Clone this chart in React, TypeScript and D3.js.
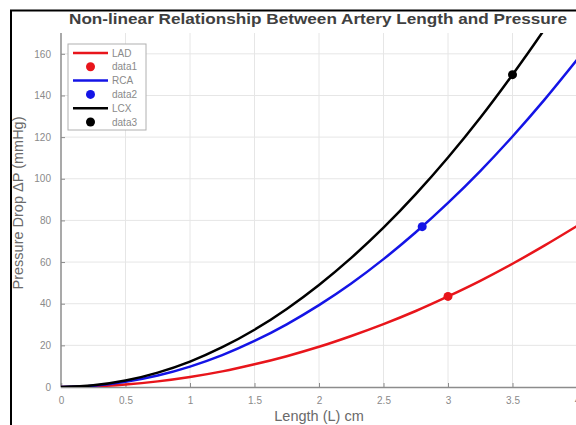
import * as d3 from 'd3'
import { useEffect, useRef } from 'react'

// Length samples (cm) and pressure drop (mmHg)
const lengths = [0, 0.25, 0.5, 0.75, 1, 1.25, 1.5, 1.75, 2, 2.25, 2.5, 2.75, 3, 3.25, 3.5, 3.75, 4]
const ladValues = [0, 0.3, 1.2, 2.7, 4.8, 7.5, 10.9, 14.8, 19.3, 24.5, 30.2, 36.5, 43.5, 51, 59.2, 68, 77.3]
const rcaValues = [0, 0.6, 2.5, 5.5, 9.8, 15.3, 22.1, 30.1, 39.3, 49.7, 61.4, 74.3, 88.4, 103.7, 120.3, 138.1, 157.1]
const lcxValues = [0, 0.8, 3.1, 6.9, 12.2, 19.1, 27.5, 37.5, 49, 62, 76.5, 92.6, 110.2, 129.3, 150, 172, 196]

const markers = [
  { name: 'data1', x: 3, y: 43.5, color: '#e8151b' },
  { name: 'data2', x: 2.8, y: 77, color: '#1414e6' },
  { name: 'data3', x: 3.5, y: 150, color: '#000000' },
]
const seriesNames = ['LAD', 'RCA', 'LCX']
const seriesColors = ['#e8151b', '#1414e6', '#000000']
const xTicks = [0, 0.5, 1, 1.5, 2, 2.5, 3, 3.5, 4]
const yTicks = [0, 20, 40, 60, 80, 100, 120, 140, 160]

const App = () => {
  const ref = useRef<SVGSVGElement>(null)
  useEffect(() => {
    const width = 576, height = 425
    const padding = { top: 33, right: -1, bottom: 38, left: 61 }
    const svg = d3.select(ref.current)
    svg.selectAll('*').remove()
    svg.attr('width', width).attr('height', height)
    svg.append('rect').attr('width', width).attr('height', height).attr('fill', '#fff')

    const xScale = d3.scaleLinear().domain([0, 4]).range([padding.left, width - padding.right])
    const yScale = d3.scaleLinear().domain([0, 170]).range([height - padding.bottom, padding.top])
    const font = '"Liberation Sans", Arial, sans-serif'

    // grid
    const grid = svg.append('g')
    grid.selectAll('.gx').data(xTicks.slice(1)).enter().append('line')
      .attr('x1', d => xScale(d)).attr('x2', d => xScale(d))
      .attr('y1', yScale(0)).attr('y2', padding.top)
      .attr('stroke', '#e6e6e6').attr('stroke-width', 1)
    grid.selectAll('.gy').data(yTicks.slice(1)).enter().append('line')
      .attr('x1', padding.left).attr('x2', width)
      .attr('y1', d => yScale(d)).attr('y2', d => yScale(d))
      .attr('stroke', '#e6e6e6').attr('stroke-width', 1)

    // axes
    const xAxis = d3.axisBottom(xScale).tickValues(xTicks).tickSize(-4).tickPadding(10).tickFormat(d => String(d))
    const yAxis = d3.axisLeft(yScale).tickValues(yTicks).tickSize(-4).tickPadding(10).tickFormat(d => String(d))
    const gx = svg.append('g').attr('transform', `translate(0,${yScale(0)})`).call(xAxis)
    const gy = svg.append('g').attr('transform', `translate(${padding.left},0)`).call(yAxis)
    ;[gx, gy].forEach(g => {
      g.select('.domain').attr('stroke', '#8c8c8c').attr('stroke-width', 1.5)
      g.selectAll('.tick line').attr('stroke', '#8c8c8c')
      g.selectAll('.tick text').attr('fill', '#8a8a8a').attr('font-size', 10).attr('font-family', font)
    })
    gy.select('.domain').attr('d', `M0,${padding.top}V${yScale(0)}`)

    // curves
    const line = d3.line<number>().x((d, i) => xScale(lengths[i])).y(d => yScale(d)).curve(d3.curveMonotoneX)
    svg.append('clipPath').attr('id', 'plotclip').append('rect')
      .attr('x', padding.left).attr('y', padding.top).attr('width', width - padding.left).attr('height', yScale(0) - padding.top)
    const curves = svg.append('g').attr('clip-path', 'url(#plotclip)')
    ;[ladValues, rcaValues, lcxValues].forEach((vals, i) => {
      curves.append('path').datum(vals).attr('d', line)
        .attr('fill', 'none').attr('stroke', seriesColors[i]).attr('stroke-width', 2.5)
    })
    svg.selectAll('.marker').data(markers).enter().append('circle')
      .attr('cx', d => xScale(d.x)).attr('cy', d => yScale(d.y)).attr('r', 4.5)
      .attr('fill', d => d.color)

    // legend
    const lg = svg.append('g').attr('transform', 'translate(68,44)')
    lg.append('rect').attr('width', 78).attr('height', 86).attr('fill', '#fff').attr('stroke', '#b0b0b0').attr('stroke-width', 1)
    const rows = seriesNames.flatMap((n, i) => [
      { label: n, color: seriesColors[i], kind: 'line' },
      { label: markers[i].name, color: markers[i].color, kind: 'dot' },
    ])
    rows.forEach((r, i) => {
      const y = 9 + i * 13.8
      if (r.kind === 'line') {
        lg.append('line').attr('x1', 5).attr('x2', 40).attr('y1', y).attr('y2', y)
          .attr('stroke', r.color).attr('stroke-width', 2.5)
      } else {
        lg.append('circle').attr('cx', 22.5).attr('cy', y).attr('r', 4.5).attr('fill', r.color)
      }
      lg.append('text').attr('x', 44).attr('y', y + 3.5).text(r.label)
        .attr('font-size', 10).attr('font-family', font).attr('fill', '#8a8a8a')
    })

    // labels
    svg.append('text').attr('x', xScale(2) - 1).attr('y', 23.5).attr('text-anchor', 'middle')
      .attr('font-size', 15).attr('font-weight', 'bold').attr('font-family', font).attr('fill', '#404040')
      .attr('textLength', 498).attr('lengthAdjust', 'spacingAndGlyphs')
      .text('Non-linear Relationship Between Artery Length and Pressure')
    svg.append('text').attr('x', xScale(2)).attr('y', 421).attr('text-anchor', 'middle')
      .attr('font-size', 14.5).attr('font-family', font).attr('fill', '#6a6a6a')
      .text('Length (L) cm')
    svg.append('text').attr('transform', `translate(23,203) rotate(-90)`).attr('text-anchor', 'middle')
      .attr('font-size', 14.5).attr('font-family', font).attr('fill', '#6a6a6a')
      .text('Pressure Drop ΔP (mmHg)')

    // screenshot frame
    svg.append('line').attr('x1', 11).attr('x2', 11).attr('y1', 10).attr('y2', height).attr('stroke', '#000').attr('stroke-width', 2)
    svg.append('line').attr('x1', 10).attr('x2', width).attr('y1', 10.5).attr('y2', 10.5).attr('stroke', '#000').attr('stroke-width', 2)
  }, [])
  return (
    <div style={{ position: 'fixed', left: 0, top: 0 }}>
      <svg ref={ref} style={{ display: 'block' }} />
    </div>
  )
}
export default App
